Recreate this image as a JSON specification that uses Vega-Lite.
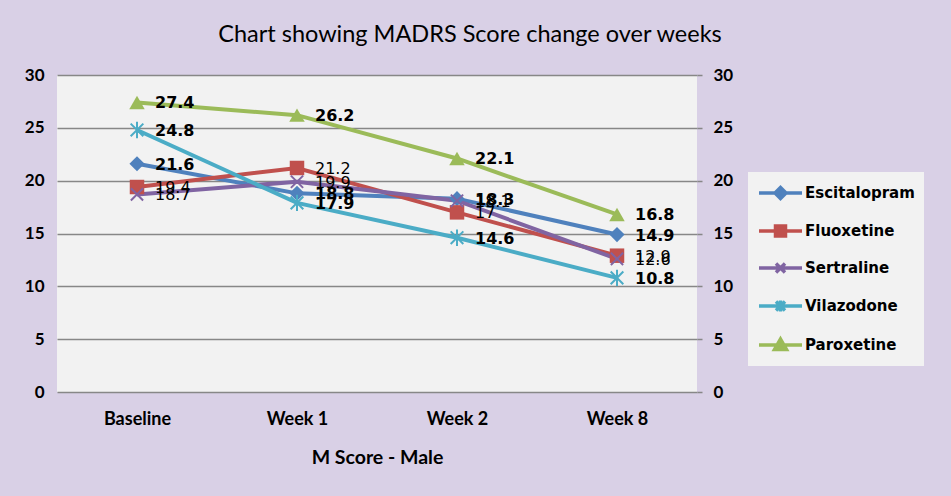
{
  "$schema": "https://vega.github.io/schema/vega-lite/v6.json",
  "width": 640,
  "height": 317,
  "autosize": {"type": "none"},
  "padding": {"left": 57, "top": 75, "right": 254, "bottom": 104},
  "background": "#D9D0E6",
  "title": {
    "text": "Chart  showing MADRS Score change over weeks",
    "font": "Lato",
    "fontSize": 23.5,
    "fontWeight": "normal",
    "color": "#000000",
    "anchor": "middle",
    "dx": 93,
    "offset": 20
  },
  "data": {
    "values": [
      {"drug": "Escitalopram", "week": "Baseline", "score": 21.6},
      {"drug": "Escitalopram", "week": "Week 1", "score": 18.8},
      {"drug": "Escitalopram", "week": "Week 2", "score": 18.3},
      {"drug": "Escitalopram", "week": "Week 8", "score": 14.9},
      {"drug": "Fluoxetine", "week": "Baseline", "score": 19.4},
      {"drug": "Fluoxetine", "week": "Week 1", "score": 21.2},
      {"drug": "Fluoxetine", "week": "Week 2", "score": 17},
      {"drug": "Fluoxetine", "week": "Week 8", "score": 12.9},
      {"drug": "Sertraline", "week": "Baseline", "score": 18.7},
      {"drug": "Sertraline", "week": "Week 1", "score": 19.9},
      {"drug": "Sertraline", "week": "Week 2", "score": 18.1},
      {"drug": "Sertraline", "week": "Week 8", "score": 12.6},
      {"drug": "Vilazodone", "week": "Baseline", "score": 24.8},
      {"drug": "Vilazodone", "week": "Week 1", "score": 17.9},
      {"drug": "Vilazodone", "week": "Week 2", "score": 14.6},
      {"drug": "Vilazodone", "week": "Week 8", "score": 10.8},
      {"drug": "Paroxetine", "week": "Baseline", "score": 27.4},
      {"drug": "Paroxetine", "week": "Week 1", "score": 26.2},
      {"drug": "Paroxetine", "week": "Week 2", "score": 22.1},
      {"drug": "Paroxetine", "week": "Week 8", "score": 16.8}
    ]
  },
  "config": {
    "view": {"fill": "#F2F2F2", "stroke": null},
    "axis": {"labelColor": "#000000", "titleColor": "#000000"}
  },
  "encoding": {
    "x": {
      "field": "week",
      "type": "nominal",
      "sort": ["Baseline", "Week 1", "Week 2", "Week 8"],
      "scale": {"type": "point", "padding": 0.5},
      "axis": {
        "labelAngle": 0,
        "domain": false,
        "ticks": false,
        "tickSize": 0,
        "labelFont": "Lato",
        "labelFontWeight": "bold",
        "labelFontSize": 18,
        "labelPadding": 18,
        "title": "M Score - Male",
        "titleFont": "Lato",
        "titleFontSize": 19.5,
        "titleFontWeight": "bold",
        "titlePadding": 20
      }
    },
    "y": {
      "field": "score",
      "type": "quantitative",
      "scale": {"domain": [0, 30], "nice": false, "zero": true},
      "axis": null
    }
  },
  "layer": [
    {
      "mark": {"type": "line", "strokeWidth": 4},
      "encoding": {
        "y": {
          "field": "score",
          "type": "quantitative",
          "scale": {"domain": [0, 30], "nice": false, "zero": true},
          "axis": {
            "orient": "left",
            "values": [0, 5, 10, 15, 20, 25, 30],
            "title": null,
            "domain": false,
            "ticks": false,
            "tickSize": 0,
            "grid": true,
            "gridColor": "#878787",
            "gridWidth": 1.5,
            "gridOpacity": 1,
            "labelFont": "Lato",
            "labelFontWeight": "bold",
            "labelFontSize": 17,
            "labelPadding": 13
          }
        },
        "color": {
          "field": "drug",
          "type": "nominal",
          "scale": {
            "domain": ["Escitalopram", "Fluoxetine", "Sertraline", "Vilazodone", "Paroxetine"],
            "range": ["#4F81BD", "#C0504D", "#8064A2", "#4BACC6", "#9BBB59"]
          },
          "legend": {
            "title": null,
            "orient": "none",
            "legendX": 691,
            "legendY": 97,
            "padding": 9,
            "fillColor": "#F2F2F2",
            "symbolSize": 400,
            "symbolStrokeWidth": 3.5,
            "labelFont": "DejaVu Sans",
            "labelFontWeight": "bold",
            "labelFontSize": 15,
            "labelColor": "#000000",
            "labelOffset": 24,
            "rowPadding": 13,
            "encode": {
              "symbols": {
                "update": {
                  "shape": {"signal": "datum.value === 'Escitalopram' ? 'M-1,0L3.3,0M1.15,-0.55L1.7,0L1.15,0.55L0.6,0Z' : datum.value === 'Fluoxetine' ? 'M-1,0L3.3,0M0.65,-0.5L1.65,-0.5L1.65,0.5L0.65,0.5Z' : datum.value === 'Sertraline' ? 'M-1,0L3.3,0M0.7,-0.45L1.6,0.45M0.7,0.45L1.6,-0.45' : datum.value === 'Vilazodone' ? 'M-1,0L3.3,0M0.7,-0.45L1.6,0.45M0.7,0.45L1.6,-0.45M1.15,-0.55L1.15,0.55' : 'M-1,0L3.3,0M1.15,-0.6L1.75,0.45L0.55,0.45Z'"},
                  "fill": {"signal": "scale('color', datum.value)"}
                }
              }
            }
          }
        }
      }
    },
    {
      "transform": [{"filter": "datum.drug === 'Escitalopram'"}],
      "mark": {"type": "point", "shape": "diamond", "filled": true, "opacity": 1, "size": 230, "color": "#4F81BD"}
    },
    {
      "transform": [{"filter": "datum.drug === 'Fluoxetine'"}],
      "mark": {"type": "point", "shape": "square", "filled": true, "opacity": 1, "size": 210, "color": "#C0504D"}
    },
    {
      "transform": [{"filter": "datum.drug === 'Paroxetine'"}],
      "mark": {"type": "point", "shape": "triangle-up", "filled": true, "opacity": 1, "size": 240, "color": "#9BBB59"}
    },
    {
      "transform": [{"filter": "datum.drug === 'Sertraline'"}],
      "mark": {"type": "point", "shape": "M-1,-1L1,1M-1,1L1,-1", "filled": false, "opacity": 1, "size": 150, "strokeWidth": 2, "color": "#8064A2"}
    },
    {
      "transform": [{"filter": "datum.drug === 'Vilazodone'"}],
      "mark": {"type": "point", "shape": "M-1,-1L1,1M-1,1L1,-1M0,-1.3L0,1.3", "filled": false, "opacity": 1, "size": 160, "strokeWidth": 2, "color": "#4BACC6"}
    },
    {
      "transform": [{"filter": "datum.drug === 'Escitalopram' || datum.drug === 'Vilazodone' || datum.drug === 'Paroxetine'"}],
      "mark": {"type": "text", "align": "left", "baseline": "middle", "dx": 18, "dy": 1, "font": "DejaVu Sans", "fontSize": 16, "fontWeight": "bold", "color": "#000000"},
      "encoding": {
        "text": {"field": "score", "type": "quantitative"}
      }
    },
    {
      "transform": [{"filter": "datum.drug === 'Fluoxetine' || datum.drug === 'Sertraline'"}],
      "mark": {"type": "text", "align": "left", "baseline": "middle", "dx": 18, "dy": 1, "font": "DejaVu Sans", "fontSize": 16, "fontWeight": "normal", "color": "#000000"},
      "encoding": {
        "text": {"field": "score", "type": "quantitative"},
        "y": {
          "field": "score",
          "type": "quantitative",
          "scale": {"domain": [0, 30], "nice": false, "zero": true},
          "axis": {
            "orient": "right",
            "values": [0, 5, 10, 15, 20, 25, 30],
            "title": null,
            "domain": false,
            "ticks": true,
            "tickSize": 5,
            "tickColor": "#878787",
            "tickWidth": 1.5,
            "grid": false,
            "labelFont": "Lato",
            "labelFontWeight": "bold",
            "labelFontSize": 17,
            "labelPadding": 11
          }
        }
      }
    }
  ],
  "resolve": {"axis": {"y": "independent"}}
}
